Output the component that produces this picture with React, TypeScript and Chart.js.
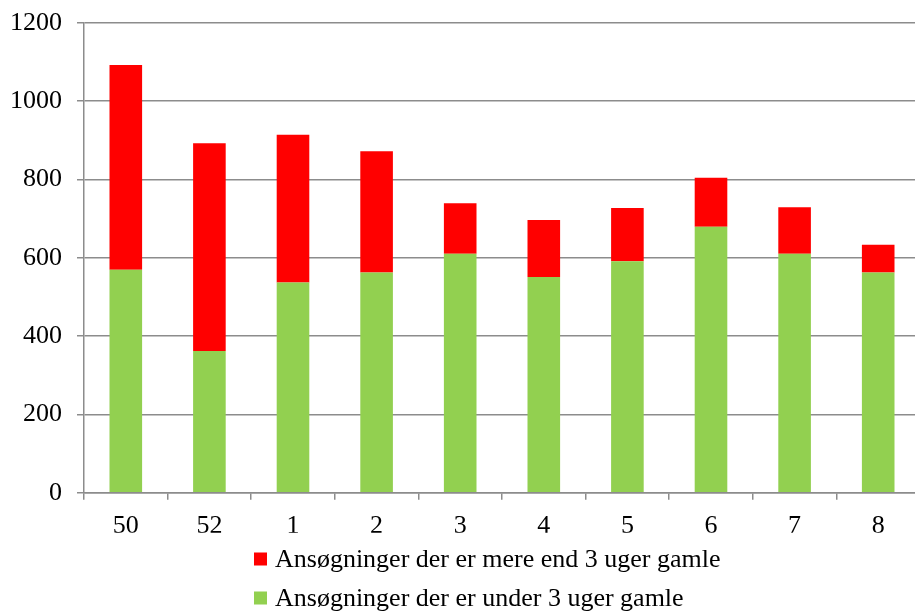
import React, { useEffect, useRef } from "react";
import { Chart, registerables } from "chart.js";

Chart.register(...registerables);

const categories = ["50", "52", "1", "2", "3", "4", "5", "6", "7", "8"];
const under3Weeks = [569, 362, 537, 562, 610, 551, 591, 679, 610, 562];
const over3Weeks = [523, 530, 377, 310, 129, 145, 136, 125, 119, 71];
const seriesLabels = [
  "Ansøgninger der er under 3 uger gamle",
  "Ansøgninger der er mere end 3 uger gamle",
];
const seriesColors = ["#92D050", "#FF0000"];

const FONT = "'Liberation Serif', 'Times New Roman', serif";
const GRID = "#8c8c8c";

const legendPlugin = {
  id: "customLegend",
  afterDraw(chart: any) {
    const ctx = chart.ctx;
    const ds = chart.data.datasets;
    const order = [1, 0];
    const x0 = 254;
    const rows = [559, 598];
    ctx.save();
    ctx.font = `26px ${FONT}`;
    ctx.textBaseline = "middle";
    ctx.textAlign = "left";
    order.forEach((idx, i) => {
      const y = rows[i];
      ctx.fillStyle = ds[idx].backgroundColor;
      ctx.fillRect(x0, y - 6.5, 13, 13);
      ctx.fillStyle = "#000";
      ctx.fillText(ds[idx].label, x0 + 21, y + 1);
    });
    ctx.restore();
  },
};

export default function App() {
  const ref = useRef<HTMLCanvasElement>(null);
  useEffect(() => {
    document.body.style.margin = "0";
    document.body.style.overflow = "hidden";
    const chart = new Chart(ref.current!, {
      type: "bar",
      data: {
        labels: categories,
        datasets: [
          {
            label: seriesLabels[0],
            data: under3Weeks,
            backgroundColor: seriesColors[0],
            barPercentage: 0.39,
            categoryPercentage: 1,
          },
          {
            label: seriesLabels[1],
            data: over3Weeks,
            backgroundColor: seriesColors[1],
            barPercentage: 0.39,
            categoryPercentage: 1,
          },
        ],
      },
      options: {
        responsive: false,
        animation: false,
        layout: { padding: { top: 22.7, bottom: 79.3, left: 0, right: 0 } },
        plugins: {
          legend: { display: false },
          tooltip: { enabled: false },
        },
        scales: {
          x: {
            stacked: true,
            offset: true,
            afterFit: (s: any) => {
              s.height = 40;
            },
            grid: {
              display: true,
              drawOnChartArea: false,
              offset: true,
              tickLength: 7,
              color: GRID,
              lineWidth: 1.5,
            },
            border: { color: GRID, width: 1.5 },
            ticks: {
              color: "#000",
              font: { family: FONT, size: 26 },
              padding: 11,
              maxRotation: 0,
            },
          },
          y: {
            stacked: true,
            min: 0,
            max: 1200,
            afterFit: (s: any) => {
              s.width = 84;
              s.paddingTop = 0;
              s.paddingBottom = 0;
            },
            grid: {
              color: GRID,
              lineWidth: 1.5,
              tickLength: 7,
            },
            border: { color: GRID, width: 1.5 },
            ticks: {
              stepSize: 200,
              color: "#000",
              font: { family: FONT, size: 26 },
              padding: 15,
              callback: (v: any) => String(v),
            },
          },
        },
      },
      plugins: [legendPlugin],
    });
    return () => chart.destroy();
  }, []);
  return (
    <div
      style={{
        position: "fixed",
        left: 0,
        top: 0,
        width: 915,
        height: 612,
        overflow: "hidden",
        background: "#fff",
      }}
    >
      <canvas ref={ref} width={920} height={612} style={{ width: 920, height: 612 }} />
    </div>
  );
}
